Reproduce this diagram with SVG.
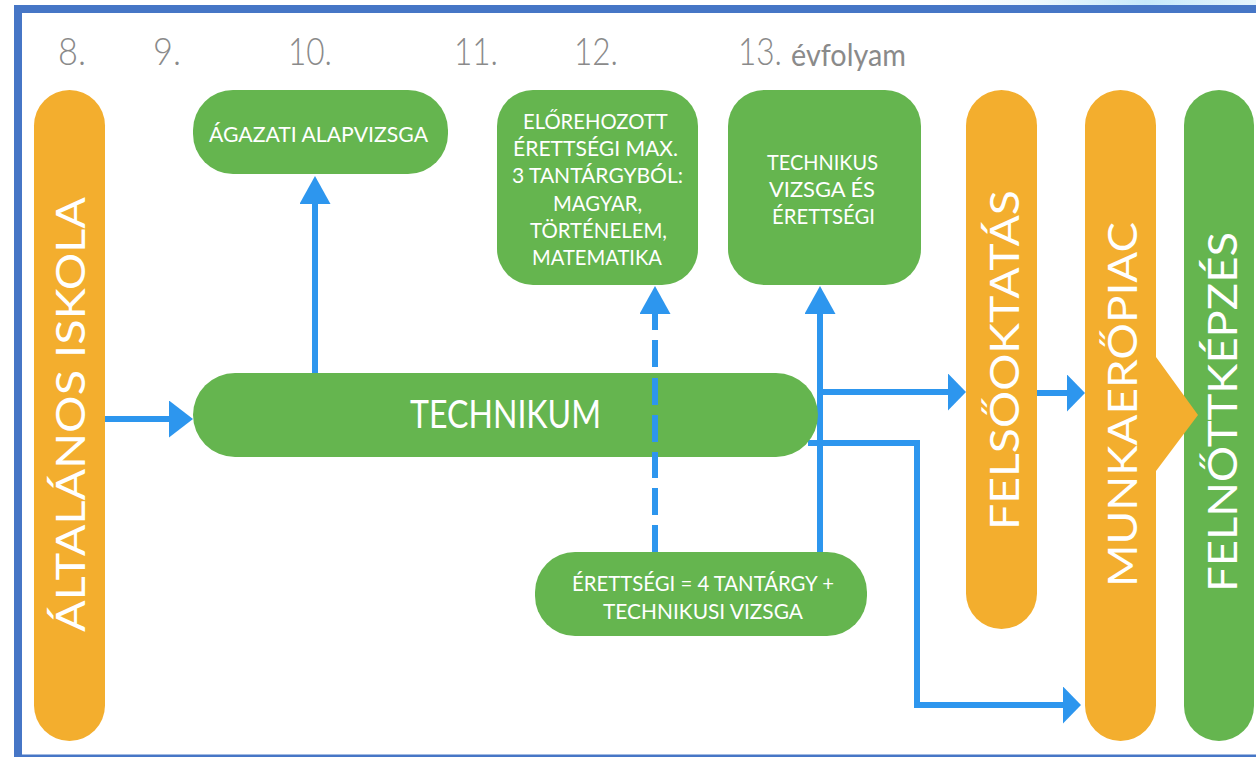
<svg xmlns="http://www.w3.org/2000/svg" width="1256" height="757" viewBox="0 0 1256 757">
<defs>
<linearGradient id="sky" x1="0" y1="0" x2="1" y2="0"><stop offset="0" stop-color="#ffffff"/><stop offset="0.3" stop-color="#eef8fd"/><stop offset="0.65" stop-color="#c6e9fb"/><stop offset="1" stop-color="#e6f5fc"/></linearGradient>
<marker id="au" markerUnits="userSpaceOnUse" markerWidth="30" markerHeight="32" refX="1" refY="15.500" orient="auto"><path d="M0 0L28 15.500L0 31z" fill="#2d96ee"/></marker>
<marker id="ar" markerUnits="userSpaceOnUse" markerWidth="20" markerHeight="38" refX="1" refY="18.500" orient="auto"><path d="M0 0L18 18.500L0 37z" fill="#2d96ee"/></marker>
<marker id="al" markerUnits="userSpaceOnUse" markerWidth="26" markerHeight="38" refX="1" refY="18.500" orient="auto"><path d="M0 0L24 18.500L0 37z" fill="#2d96ee"/></marker>
</defs>
<style>
text{font-family:Lato,"Liberation Sans",sans-serif}
.num{font-size:38px;fill:#8a8a8a;font-weight:300}
.org{fill:#f3ae2e}.grn{fill:#65b54f}
.big{font-size:40px;fill:#fff}
.sm{font-size:21px;fill:#fff}
.cn{fill:none;stroke:#2d96ee;stroke-width:6}
</style>
<rect width="1256" height="757" fill="#fff"/>
<rect x="940" width="316" height="5" fill="url(#sky)"/>
<path d="M14 757V5H1256V13H22V754.500H1256V757z" fill="#4676c6"/>
<g id="years">
<text class="num" x="58" y="65" textLength="28" lengthAdjust="spacingAndGlyphs">8.</text>
<text class="num" x="153" y="65" textLength="28" lengthAdjust="spacingAndGlyphs">9.</text>
<text class="num" x="288" y="65" textLength="44" lengthAdjust="spacingAndGlyphs">10.</text>
<text class="num" x="454" y="65" textLength="44" lengthAdjust="spacingAndGlyphs">11.</text>
<text class="num" x="574" y="65" textLength="44" lengthAdjust="spacingAndGlyphs">12.</text>
<text class="num" x="738" y="65" textLength="44" lengthAdjust="spacingAndGlyphs">13.</text>
<text x="791" y="66" font-size="31" fill="#8a8a8a" textLength="115" lengthAdjust="spacingAndGlyphs">évfolyam</text>
</g>
<g id="altalanos"><rect class="org" x="34" y="90" width="71" height="651" rx="35.500"/><text class="big" transform="translate(85 632) rotate(-90)" textLength="435" lengthAdjust="spacingAndGlyphs">ÁLTALÁNOS ISKOLA</text></g>
<g id="agazati"><rect class="grn" x="193" y="90" width="255" height="84" rx="40"/><text class="sm" x="209" y="142" textLength="219" lengthAdjust="spacingAndGlyphs">ÁGAZATI ALAPVIZSGA</text></g>
<g id="elorehozott"><rect class="grn" x="497" y="90" width="201" height="195" rx="36"/><text class="sm">
<tspan x="523" y="129" textLength="144" lengthAdjust="spacingAndGlyphs">ELŐREHOZOTT</tspan>
<tspan x="513" y="156" textLength="165" lengthAdjust="spacingAndGlyphs">ÉRETTSÉGI MAX.</tspan>
<tspan x="512" y="183" textLength="171" lengthAdjust="spacingAndGlyphs">3 TANTÁRGYBÓL:</tspan>
<tspan x="553" y="211" textLength="89" lengthAdjust="spacingAndGlyphs">MAGYAR,</tspan>
<tspan x="530" y="238" textLength="137" lengthAdjust="spacingAndGlyphs">TÖRTÉNELEM,</tspan>
<tspan x="532" y="265" textLength="130" lengthAdjust="spacingAndGlyphs">MATEMATIKA</tspan></text></g>
<g id="technikus"><rect class="grn" x="728" y="90" width="193" height="195" rx="36"/><text class="sm">
<tspan x="767" y="170" textLength="111" lengthAdjust="spacingAndGlyphs">TECHNIKUS</tspan>
<tspan x="769" y="197" textLength="106" lengthAdjust="spacingAndGlyphs">VIZSGA ÉS</tspan>
<tspan x="772" y="224" textLength="103" lengthAdjust="spacingAndGlyphs">ÉRETTSÉGI</tspan></text></g>
<g id="erettsegi"><rect class="grn" x="535" y="552" width="332" height="84" rx="40"/><text class="sm">
<tspan x="572" y="591" textLength="262" lengthAdjust="spacingAndGlyphs">ÉRETTSÉGI = 4 TANTÁRGY +</tspan>
<tspan x="603" y="619" textLength="200" lengthAdjust="spacingAndGlyphs">TECHNIKUSI VIZSGA</tspan></text></g>
<g id="felnottkepzes"><rect class="grn" x="1184" y="90" width="70" height="651" rx="35"/><text class="big" transform="translate(1237 592) rotate(-90)" textLength="360" lengthAdjust="spacingAndGlyphs">FELNŐTTKÉPZÉS</text></g>
<g id="felsooktatas"><rect class="org" x="966" y="90" width="71" height="539" rx="35.500"/><text class="big" transform="translate(1019 530) rotate(-90)" textLength="340" lengthAdjust="spacingAndGlyphs">FELSŐOKTATÁS</text></g>
<g id="munkaeropiac"><path class="org" d="M1085 125.500a35.500 35.500 0 0 1 71 0V357L1198 415L1156 471V705.500a35.500 35.500 0 0 1-71 0z"/><text class="big" transform="translate(1137 587) rotate(-90)" textLength="365" lengthAdjust="spacingAndGlyphs">MUNKAERŐPIAC</text></g>
<g id="connectors">
<path class="cn" marker-end="url(#al)" d="M105 419H170"/>
<path class="cn" marker-end="url(#au)" d="M315 374V203"/>
<path class="cn" marker-end="url(#au)" d="M820 552V313"/>
<path class="cn" marker-end="url(#ar)" d="M818 392H949"/>
<path class="cn" marker-end="url(#ar)" d="M1037 393H1068"/>
<path class="cn" marker-end="url(#ar)" d="M808 443H917V705H1064"/>
<path class="cn" stroke-dasharray="27 10" marker-end="url(#au)" d="M655 552V313"/>
</g>
<g id="technikum"><path class="grn" d="M235 373H776a42 42 0 0 1 0 84H235a42 42 0 0 1 0-84z"/><text x="410" y="428" font-size="39" fill="#fff" textLength="191" lengthAdjust="spacingAndGlyphs">TECHNIKUM</text></g>
<path class="cn" stroke-dasharray="27 10" stroke-dashoffset="22" d="M655 457V373"/>
</svg>
